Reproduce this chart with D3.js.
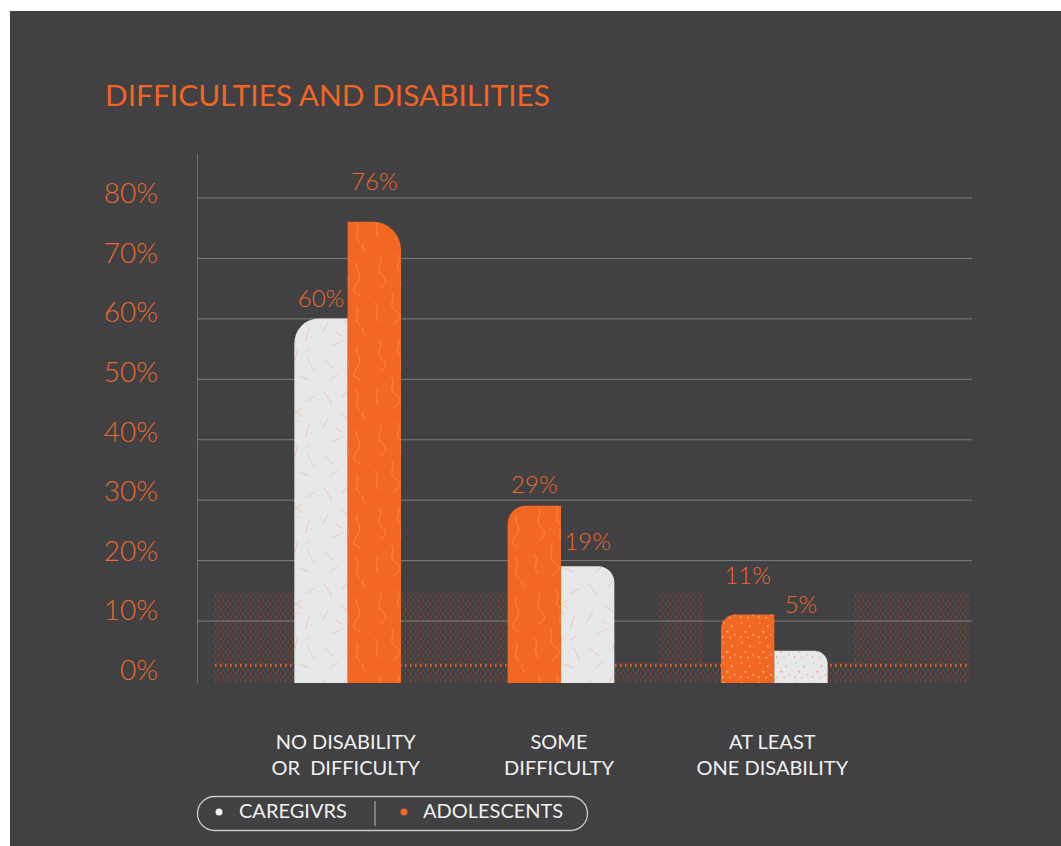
<!DOCTYPE html>
<html>
<head>
<meta charset="utf-8">
<script src="https://cdn.jsdelivr.net/npm/d3@7"></script>
<style>
  html, body { margin: 0; padding: 0; background: #ffffff; }
  svg { display: block; }
  text { font-family: Lato, "Open Sans", "DejaVu Sans", sans-serif; }
</style>
</head>
<body>
<svg id="chart" width="1061" height="846"></svg>
<script>
// ---- data ----
const categories = ["No disability or difficulty", "Some difficulty", "At least one disability"];
const categoryLines = [["NO DISABILITY", "OR  DIFFICULTY"], ["SOME", "DIFFICULTY"], ["AT LEAST", "ONE DISABILITY"]];
const seriesNames = ["CAREGIVRS", "ADOLESCENTS"];
const caregivers = [60, 19, 5];
const adolescents = [76, 29, 11];
// which series stands on the left inside each group
const leftSeries = ["CAREGIVRS", "ADOLESCENTS", "ADOLESCENTS"];
const yTicks = [0, 10, 20, 30, 40, 50, 60, 70, 80];
const yTickLabels = ["0%", "10%", "20%", "30%", "40%", "50%", "60%", "70%", "80%"];

// ---- styling ----
const ORANGE = "#F26722";
const LABEL_ORANGE = "#EA6A2C";
const LIGHT = "#E6E7E8";
const BG = "#414042";

// vertical gap between a bar top and its value label baseline
const labelLift = [
  { CAREGIVRS: 11, ADOLESCENTS: 32 },
  { CAREGIVRS: 16, ADOLESCENTS: 13 },
  { CAREGIVRS: 38, ADOLESCENTS: 31 }
];

const svg = d3.select("#chart");

// panel
svg.append("rect").attr("x", 10).attr("y", 11).attr("width", 1051).attr("height", 835).attr("fill", BG);

// ---- patterns ----
const defs = svg.append("defs");

const confetti = defs.append("pattern").attr("id", "confetti")
  .attr("patternUnits", "userSpaceOnUse").attr("width", 53).attr("height", 96);
confetti.append("path")
  .attr("d", [
    "M6,8 L14,20", "M30,4 L24,14", "M40,18 L50,12", "M10,34 L4,46",
    "M22,30 L34,38", "M44,40 L40,54", "M14,58 L26,52", "M32,62 L30,74",
    "M6,72 L16,80", "M42,70 L50,84", "M20,86 L12,92", "M34,88 L44,92",
    "M38,24 L30,28 L38,32", "M18,44 L24,48", "M46,60 L40,64"
  ].join(" "))
  .attr("fill", "none").attr("stroke", "#F5B48C").attr("stroke-width", 1).attr("opacity", 0.6);

const squiggle = defs.append("pattern").attr("id", "squiggle")
  .attr("patternUnits", "userSpaceOnUse").attr("width", 53).attr("height", 84);
squiggle.append("path")
  .attr("d", [
    "M8,4 C14,10 4,16 10,22 S16,30 10,36",
    "M26,2 C32,8 22,14 30,20",
    "M40,10 C34,16 46,22 40,30 S34,40 42,44",
    "M20,40 C26,46 16,52 24,58 S30,66 22,72",
    "M4,50 C10,56 2,62 8,70",
    "M38,54 C44,60 34,66 42,74",
    "M46,76 C40,80 50,82 46,84",
    "M28,24 C34,28 26,32 32,36"
  ].join(" "))
  .attr("fill", "none").attr("stroke", "#FBA46E").attr("stroke-width", 1).attr("opacity", 0.5);

function speckle(id, color) {
  const p = defs.append("pattern").attr("id", id)
    .attr("patternUnits", "userSpaceOnUse").attr("width", 18).attr("height", 20);
  [[3, 2, 1.5, 1.5], [11, 5, 1.5, 2.5], [6, 11, 2.5, 1.5], [14, 14, 1.5, 1.5], [2, 16, 1.5, 2], [9, 17, 2, 1.2]]
    .forEach(r => p.append("rect").attr("x", r[0]).attr("y", r[1]).attr("width", r[2]).attr("height", r[3])
      .attr("fill", color).attr("opacity", 0.75));
}
speckle("speckleLight", "#F9C09A");
speckle("speckleOrange", "#F4AA80");

const band = defs.append("pattern").attr("id", "band")
  .attr("patternUnits", "userSpaceOnUse").attr("width", 5).attr("height", 7);
band.append("rect").attr("x", 0).attr("y", 0).attr("width", 1.2).attr("height", 3).attr("fill", "#C24E2A").attr("opacity", 0.45);
band.append("rect").attr("x", 2.5).attr("y", 3.5).attr("width", 1.2).attr("height", 3).attr("fill", "#C24E2A").attr("opacity", 0.45);

const bandLine = defs.append("pattern").attr("id", "bandLine")
  .attr("patternUnits", "userSpaceOnUse").attr("width", 5).attr("height", 3);
bandLine.append("rect").attr("x", 0).attr("y", 0).attr("width", 1.6).attr("height", 3).attr("fill", "#F26522").attr("opacity", 0.9);

// ---- scales ----
const y = d3.scaleLinear().domain([0, 80]).range([681, 197.5]);
const x = d3.scaleBand().domain(categories).range([241, 881]).paddingInner(0.5).paddingOuter(0.25);
const sub = d3.scaleBand().domain([0, 1]).range([0, x.bandwidth()]);

// title
svg.append("text")
  .attr("x", 105).attr("y", 106)
  .attr("font-size", 29).attr("fill", "#F26522")
  .attr("textLength", 445).attr("lengthAdjust", "spacingAndGlyphs")
  .text("DIFFICULTIES AND DISABILITIES");

// decorative dotted band along the floor of the plot
const bandTop = y(14.6), bandMid = y(3), bandBottom = y(0) + 2;
svg.append("rect").attr("x", 213).attr("y", bandMid).attr("width", 757).attr("height", bandBottom - bandMid).attr("fill", "url(#band)");
[[213, 509], [660, 703], [853, 970]].forEach(([a, b]) =>
  svg.append("rect").attr("x", a).attr("y", bandTop).attr("width", b - a).attr("height", bandMid - bandTop).attr("fill", "url(#band)"));
svg.append("rect").attr("x", 213).attr("y", y(2.6) - 1.5).attr("width", 757).attr("height", 3).attr("fill", "url(#bandLine)");

// gridlines
svg.append("g").selectAll("line")
  .data(yTicks.filter(t => t > 0))
  .join("line")
  .attr("x1", 197).attr("x2", 972)
  .attr("y1", d => y(d) + 0.5).attr("y2", d => y(d) + 0.5)
  .attr("stroke", "#8a8a8c").attr("stroke-width", 1).attr("opacity", 0.85);

// vertical axis line
svg.append("line").attr("x1", 197.5).attr("x2", 197.5).attr("y1", 154).attr("y2", y(0) + 2)
  .attr("stroke", "#6d6e71").attr("stroke-width", 1);

// y tick labels (the label column is slightly tighter than the grid)
svg.append("g").selectAll("text")
  .data(yTicks)
  .join("text")
  .attr("x", 158).attr("y", d => y(d) - 1 + d * 0.085)
  .attr("text-anchor", "end")
  .attr("font-size", 28).attr("font-weight", 300)
  .attr("fill", LABEL_ORANGE)
  .text((d, i) => yTickLabels[i]);

// ---- bars ----
const bars = categories.flatMap((c, i) => {
  const order = leftSeries[i] === "CAREGIVRS" ? ["CAREGIVRS", "ADOLESCENTS"] : ["ADOLESCENTS", "CAREGIVRS"];
  return order.map((s, j) => ({
    cat: c, i, series: s, pos: j,
    value: s === "CAREGIVRS" ? caregivers[i] : adolescents[i]
  }));
});

function barPath(d) {
  const x0 = x(d.cat) + sub(d.pos), w = sub.bandwidth();
  const top = y(d.value), base = y(0) + 2, h = base - top;
  const r = 12 + 0.035 * h;
  if (d.pos === 0) {
    return `M${x0},${base} V${top + r} A${r},${r} 0 0 1 ${x0 + r},${top} H${x0 + w} V${base} Z`;
  }
  return `M${x0},${base} V${top} H${x0 + w - r} A${r},${r} 0 0 1 ${x0 + w},${top + r} V${base} Z`;
}

const barG = svg.append("g");
barG.selectAll("path.bar")
  .data(bars)
  .join("path")
  .attr("class", "bar")
  .attr("d", barPath)
  .attr("fill", d => d.series === "CAREGIVRS" ? LIGHT : ORANGE);

barG.selectAll("path.tex")
  .data(bars)
  .join("path")
  .attr("class", "tex")
  .attr("d", barPath)
  .attr("fill", d => {
    if (d.i === 2) return d.series === "CAREGIVRS" ? "url(#speckleOrange)" : "url(#speckleLight)";
    return d.series === "CAREGIVRS" ? "url(#confetti)" : "url(#squiggle)";
  });

// value labels
svg.append("g").selectAll("text")
  .data(bars)
  .join("text")
  .attr("x", d => x(d.cat) + sub(d.pos) + sub.bandwidth() / 2)
  .attr("y", d => y(d.value) - labelLift[d.i][d.series])
  .attr("text-anchor", "middle")
  .attr("font-size", 24).attr("font-weight", 300)
  .attr("fill", LABEL_ORANGE)
  .text(d => d.value + "%");

// category labels
const catG = svg.append("g").selectAll("text")
  .data(categories)
  .join("text")
  .attr("text-anchor", "middle")
  .attr("font-size", 20)
  .attr("fill", "#F1F1F2")
  .style("white-space", "pre");
catG.each(function (d, i) {
  const t = d3.select(this);
  const cx = x(d) + x.bandwidth() / 2 - 2;
  categoryLines[i].forEach((line, k) => {
    t.append("tspan").attr("x", cx).attr("y", 749 + k * 26).text(line);
  });
});

// ---- legend ----
const lg = svg.append("g");
lg.append("rect").attr("x", 197.5).attr("y", 796.5).attr("width", 390).attr("height", 34).attr("rx", 17)
  .attr("fill", "none").attr("stroke", "#c9c9cb").attr("stroke-width", 1.3);
lg.append("line").attr("x1", 375).attr("x2", 375).attr("y1", 801).attr("y2", 826)
  .attr("stroke", "#a7a8aa").attr("stroke-width", 1.2);
const legendItems = [
  { name: seriesNames[0], color: "#F1F1F2", dot: 219, text: 239 },
  { name: seriesNames[1], color: ORANGE, dot: 404, text: 423 }
];
legendItems.forEach(it => {
  lg.append("circle").attr("cx", it.dot).attr("cy", 812).attr("r", 3.5).attr("fill", it.color);
  lg.append("text").attr("x", it.text).attr("y", 818).attr("font-size", 20).attr("fill", "#F1F1F2").text(it.name);
});
</script>
</body>
</html>
